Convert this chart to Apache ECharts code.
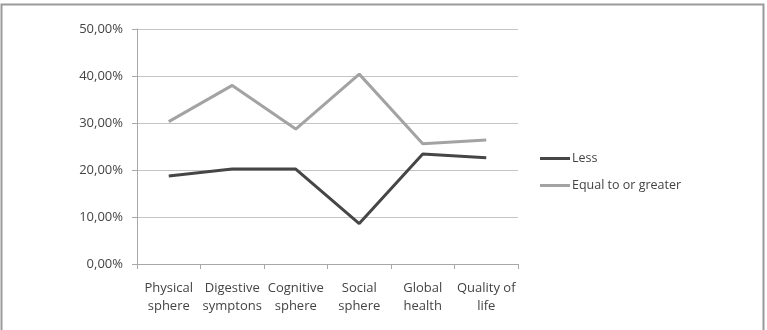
<!DOCTYPE html>
<html>
<head>
<meta charset="utf-8">
<script src="https://cdn.jsdelivr.net/npm/echarts@6/dist/echarts.min.js"></script>
<style>
  html, body { margin: 0; padding: 0; background: #fff; }
  #chart { width: 767px; height: 330px; }
</style>
</head>
<body>
<div id="chart"></div>
<script>
// categories along the x axis
var categories = ['Physical\nsphere', 'Digestive\nsymptons', 'Cognitive\nsphere', 'Social\nsphere', 'Global\nhealth', 'Quality of\nlife'];
// values in percent
var lessValues = [18.7, 20.2, 20.2, 8.6, 23.4, 22.6];
var greaterValues = [30.3, 38.0, 28.7, 40.4, 25.6, 26.4];
var seriesNames = ['Less', 'Equal to or greater'];

var myChart = echarts.init(document.getElementById('chart'));

var option = {
    animation: false,
    backgroundColor: '#fff',
    textStyle: { fontFamily: '"Open Sans", "DejaVu Sans", sans-serif' },
    graphic: [{
        type: 'polyline',
        shape: { points: [[1.5, 340], [1.5, 4.5], [763.5, 4.5], [763.5, 340]] },
        style: { stroke: '#9a9a9a', lineWidth: 2, fill: null },
        silent: true
    }],
    legend: {
        orient: 'vertical',
        left: 535,
        top: 147,
        itemWidth: 30,
        itemHeight: 3,
        itemGap: 14,
        icon: 'rect',
        textStyle: { color: '#444', fontSize: 12.5, padding: [0, 0, 0, -3] },
        data: seriesNames
    },
    grid: { left: 137, right: 249, top: 29, bottom: 66 },
    xAxis: {
        type: 'category',
        data: categories,
        boundaryGap: true,
        axisLine: { lineStyle: { color: '#a8a8a8', width: 1 } },
        axisTick: { show: true, length: 5, lineStyle: { color: '#a8a8a8' } },
        axisLabel: { color: '#444', fontSize: 13, lineHeight: 18, margin: 15, interval: 0 }
    },
    yAxis: {
        type: 'value',
        min: 0,
        max: 50,
        interval: 10,
        axisLine: { show: true, lineStyle: { color: '#a8a8a8' } },
        axisTick: { show: true, length: 5, lineStyle: { color: '#a8a8a8' } },
        splitLine: { lineStyle: { color: '#c4c4c4', width: 1 } },
        axisLabel: {
            color: '#444', fontSize: 13, margin: 14,
            formatter: function (v) { return v.toFixed(2).replace('.', ',') + '%'; }
        }
    },
    series: [{
        name: seriesNames[0],
        type: 'line',
        data: lessValues,
        symbol: 'none',
        lineStyle: { color: '#464646', width: 3 },
        itemStyle: { color: '#464646' }
    }, {
        name: seriesNames[1],
        type: 'line',
        data: greaterValues,
        symbol: 'none',
        lineStyle: { color: '#a3a3a3', width: 3 },
        itemStyle: { color: '#a3a3a3' }
    }]
};

myChart.setOption(option);
</script>
</body>
</html>
